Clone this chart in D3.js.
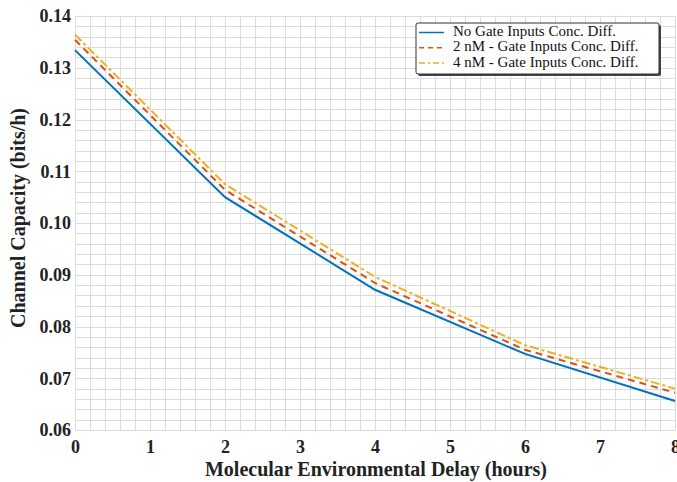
<!DOCTYPE html>
<html>
<head>
<meta charset="utf-8">
<script src="https://cdn.jsdelivr.net/npm/d3@7"></script>
<style>
  body { margin: 0; background: #fff; }
  svg { display: block; }
  text { font-family: "Liberation Serif", "Times New Roman", serif; }
</style>
</head>
<body>
<svg width="677" height="482"></svg>
<script>
// data
var delays = [0, 2, 4, 6, 8];
var noDiff = [0.1334, 0.1050, 0.0871, 0.0747, 0.0656];
var diff2nM = [0.1354, 0.1064, 0.0884, 0.0755, 0.0672];
var diff4nM = [0.1364, 0.1075, 0.0896, 0.0764, 0.0680];
var seriesNames = ["No Gate Inputs Conc. Diff.", "2 nM - Gate Inputs Conc. Diff.", "4 nM - Gate Inputs Conc. Diff."];
var xTicks = [0, 1, 2, 3, 4, 5, 6, 7, 8];
var yTicks = [0.06, 0.07, 0.08, 0.09, 0.10, 0.11, 0.12, 0.13, 0.14];

var svg = d3.select("svg");
var mLeft = 75, mRight = 675, mTop = 16, mBottom = 430;

var x = d3.scaleLinear().domain([0, 8]).range([mLeft, mRight]);
var y = d3.scaleLinear().domain([0.06, 0.14]).range([mBottom, mTop]);

// grid
var grid = svg.append("g").attr("stroke", "#dcdcdc").attr("stroke-width", 1);
d3.range(0, 8.001, 0.2).forEach(function(v) {
  grid.append("line").attr("x1", Math.round(x(v)) + 0.5).attr("x2", Math.round(x(v)) + 0.5)
    .attr("y1", mTop).attr("y2", mBottom);
});
d3.range(0.06, 0.14001, 0.002).forEach(function(v) {
  grid.append("line").attr("y1", Math.round(y(v)) + 0.5).attr("y2", Math.round(y(v)) + 0.5)
    .attr("x1", mLeft).attr("x2", mRight);
});

// axes
var xAxis = svg.append("g").attr("transform", "translate(0," + mBottom + ")")
  .call(d3.axisBottom(x).tickValues(xTicks).tickSize(0).tickPadding(10).tickFormat(d3.format("d")));
var yAxis = svg.append("g").attr("transform", "translate(" + mLeft + ",0)")
  .call(d3.axisLeft(y).tickValues(yTicks).tickSize(0).tickPadding(4).tickFormat(d3.format(".2f")));
[xAxis, yAxis].forEach(function(a) {
  a.select(".domain").remove();
  a.selectAll("text").attr("font-family", "Liberation Serif, serif")
    .attr("font-size", 18).attr("font-weight", "bold").attr("fill", "#222");
});

// lines
var line = d3.line().x(function(d, i) { return x(delays[i]); }).y(function(d) { return y(d); });
var styles = [
  { data: noDiff, color: "#0072BD", dash: null },
  { data: diff2nM, color: "#D95319", dash: "7,5" },
  { data: diff4nM, color: "#EDB120", dash: "9,3,3,3" }
];
styles.forEach(function(s) {
  svg.append("path").datum(s.data).attr("d", line)
    .attr("fill", "none").attr("stroke", s.color).attr("stroke-width", 2)
    .attr("stroke-dasharray", s.dash);
});

// axis titles
svg.append("text").attr("x", 376).attr("y", 476)
  .attr("text-anchor", "middle").attr("font-size", 20).attr("font-weight", "bold").attr("fill", "#222")
  .text("Molecular Environmental Delay (hours)");
svg.append("text").attr("transform", "translate(25,218) rotate(-90)")
  .attr("text-anchor", "middle").attr("font-size", 20).attr("font-weight", "bold").attr("fill", "#222")
  .text("Channel Capacity (bits/h)");

// legend
var lg = svg.append("g").attr("transform", "translate(416,23)");
lg.append("rect").attr("x", 2).attr("y", 2).attr("width", 243).attr("height", 51).attr("rx", 2).attr("fill", "#444");
lg.append("rect").attr("x", 0).attr("y", 0).attr("width", 243).attr("height", 51).attr("rx", 2)
  .attr("fill", "#fff").attr("stroke", "#333").attr("stroke-width", 1);
styles.forEach(function(s, i) {
  var yy = 9.5 + i * 15.3;
  lg.append("line").attr("x1", 3).attr("x2", 28).attr("y1", yy).attr("y2", yy)
    .attr("stroke", s.color).attr("stroke-width", 1.5).attr("stroke-dasharray", s.dash ? (i == 1 ? "5,4" : "6,3,2,3") : null);
  lg.append("text").attr("x", 37).attr("y", yy + 3.5).attr("font-size", 15).attr("fill", "#111")
    .text(seriesNames[i]);
});
</script>
</body>
</html>
